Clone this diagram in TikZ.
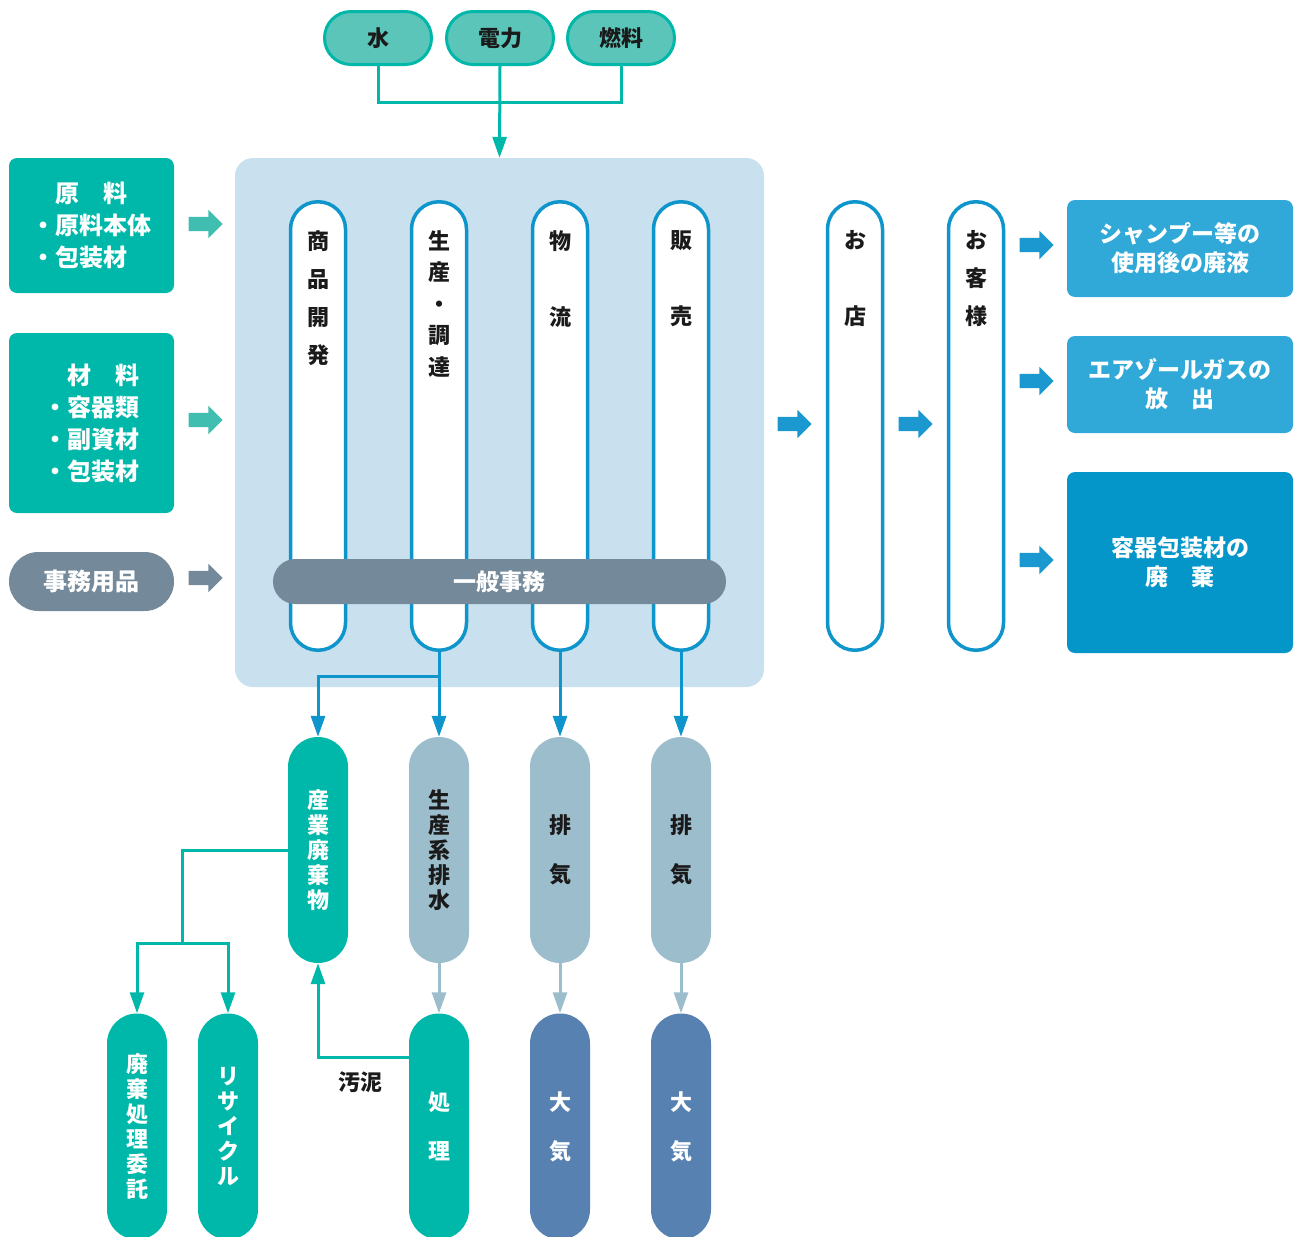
\documentclass[tikz,border=0pt]{standalone}
\usepackage{fontspec}
\setmainfont{Noto Sans CJK JP}
\usepackage{tikz}
\usetikzlibrary{arrows.meta,shapes.arrows,positioning}
\definecolor{seagreen}{HTML}{00B8A9}
\definecolor{mint}{HTML}{5CC5B9}
\definecolor{mintarrow}{HTML}{40BFB1}
\definecolor{slate}{HTML}{748A9B}
\definecolor{pipeblue}{HTML}{0E95CB}
\definecolor{arrowblue}{HTML}{1C98D1}
\definecolor{skyblue}{HTML}{30A9D8}
\definecolor{deepblue}{HTML}{0495C9}
\definecolor{paleblue}{HTML}{9BBDCC}
\definecolor{steelblue}{HTML}{5681B1}
\definecolor{plantbg}{HTML}{C9E0EF}
\definecolor{ink}{HTML}{1A1A1A}
\tikzset{>={Triangle[width=14pt,length=21pt]}}
\tikzset{
  every node/.style={inner sep=0pt, text=ink, font=\bfseries\fontsize{22}{26}\selectfont},
  energy/.style={draw=seagreen, line width=3pt, fill=mint, minimum width=107pt,
    minimum height=53pt, rounded corners=26.4pt},
  inbox/.style={fill=seagreen, rounded corners=8pt, minimum width=165pt, text=white,
    align=left, font=\bfseries\fontsize{24}{32}\selectfont},
  pipe/.style={draw=pipeblue, line width=3.5pt, fill=white, minimum width=55pt,
    minimum height=448.5pt, rounded corners=27.4pt},
  vlbl/.style={align=center, font=\bfseries\fontsize{22}{#1}\selectfont},
  bar/.style={fill=slate, text=white, minimum width=453pt, minimum height=45pt,
    rounded corners=22.4pt, font=\bfseries\fontsize{23}{26}\selectfont},
  outbox/.style={fill=skyblue, rounded corners=8pt, minimum width=226pt, text=white,
    align=center, font=\bfseries\fontsize{23}{29}\selectfont},
  pill/.style={minimum width=60pt, minimum height=226pt, rounded corners=29.9pt,
    align=center, font=\bfseries\fontsize{22}{#1}\selectfont},
  fat/.style={single arrow, inner sep=7pt, single arrow head extend=7pt,
    minimum height=34pt},
  flow/.style={line width=3pt},
}
\begin{document}
\begin{tikzpicture}[x=1pt,y=-1pt]
\useasboundingbox (0,0) rectangle (1294,1237);

%% energy
\node[energy] (water) at (378,38) {水};
\node[energy] (power) at (500,38) {電力};
\node[energy] (fuel) at (621,38) {燃料};

%% company
\node[fill=plantbg, rounded corners=18pt, minimum width=529pt, minimum height=529pt]
  (plant) at (499.5,422.5) {};

\draw[flow, draw=seagreen] (water.south) -- ++(0,36) -| (fuel.south);
\draw[flow, draw=seagreen, ->] (power.south) -- (plant.north);

%% inputs
\node[inbox, minimum height=135pt] (raw) at (91.5,225.5) {　原　料\\・原料本体\\・包装材};
\node[inbox, minimum height=180pt] (mat) at (91.5,423) {　材　料\\・容器類\\・副資材\\・包装材};
\node[inbox, fill=slate, minimum height=59pt, rounded corners=29.4pt, align=center]
  (office) at (91.5,581.5) {事務用品};
\node[fat, fill=mintarrow] (in1) at (202,224) {};
\node[fat, fill=mintarrow] (in2) at (202,420) {};
\node[fat, fill=slate] (in3) at (202,578) {};

%% stages
\foreach \n/\x in {1/318,2/439,3/560,4/681}
  \node[pipe] (p\n) at (\x,426) {};
\node[vlbl=38, below=30pt of p1.north] (l1) {商\\品\\開\\発};
\node[vlbl=31.5, below=30pt of p2.north] (l2) {生\\産\\・\\調\\達};
\node[vlbl=76, below=30pt of p3.north] (l3) {物\\流};
\node[vlbl=76, below=30pt of p4.north] (l4) {販\\売};
\node[bar] (general) at (499.5,581.5) {一般事務};

%% shop, customer
\node[pipe] (shop) at (855,426) {};
\node[pipe] (cust) at (976,426) {};
\node[vlbl=76, below=30pt of shop.north] (l5) {お\\店};
\node[vlbl=38, below=30pt of cust.north] (l6) {お\\客\\様};
\node[fat, fill=arrowblue] (f1) at (791,424) {};
\node[fat, fill=arrowblue] (f2) at (912,424) {};

%% outputs from customers
\node[fat, fill=arrowblue] (f3) at (1033,245) {};
\node[fat, fill=arrowblue] (f4) at (1033,381) {};
\node[fat, fill=arrowblue] (f5) at (1033,560) {};
\node[outbox, minimum height=97pt] (o1) at (1180,248.5) {シャンプー等の\\使用後の廃液};
\node[outbox, minimum height=97pt] (o2) at (1180,384.5) {エアゾールガスの\\放　出};
\node[outbox, fill=deepblue, minimum height=181pt] (o3) at (1180,562.5) {容器包装材の\\廃　棄};

%% emissions
\node[pill=25, fill=seagreen, text=white] (indw) at (318,850) {産\\業\\廃\\棄\\物};
\node[pill=25, fill=paleblue] (sewage) at (439,850) {生\\産\\系\\排\\水};
\node[pill=49, fill=paleblue] (ex1) at (560,850) {排\\気};
\node[pill=49, fill=paleblue] (ex2) at (681,850) {排\\気};

\node[pill=25, fill=seagreen, text=white] (consign) at (137,1126.5) {廃\\棄\\処\\理\\委\\託};
\node[pill=25, fill=seagreen, text=white] (recycle) at (228,1126.5) {リ\\サ\\イ\\ク\\ル};
\node[pill=49, fill=seagreen, text=white] (treat) at (439,1126.5) {処\\理};
\node[pill=49, fill=steelblue, text=white] (air1) at (560,1126.5) {大\\気};
\node[pill=49, fill=steelblue, text=white] (air2) at (681,1126.5) {大\\気};

\draw[flow, draw=pipeblue, ->] (p2.south) -- (sewage.north);
\draw[flow, draw=pipeblue, ->] (p2.south) -- ++(0,24) -| (indw.north);
\draw[flow, draw=pipeblue, ->] (p3.south) -- (ex1.north);
\draw[flow, draw=pipeblue, ->] (p4.south) -- (ex2.north);

\coordinate (split) at (182,943);
\draw[flow, draw=seagreen] (indw.west) -| (split);
\draw[flow, draw=seagreen, ->] (split) -| (consign.north);
\draw[flow, draw=seagreen, ->] (split) -| (recycle.north);
\draw[flow, draw=seagreen, ->] ([yshift=69.5pt]treat.west) -| (indw.south);
\node (sludge) at (360,1082) {汚泥};

\draw[flow, draw=paleblue, ->] (sewage.south) -- (treat.north);
\draw[flow, draw=paleblue, ->] (ex1.south) -- (air1.north);
\draw[flow, draw=paleblue, ->] (ex2.south) -- (air2.north);

\end{tikzpicture}
\end{document}
